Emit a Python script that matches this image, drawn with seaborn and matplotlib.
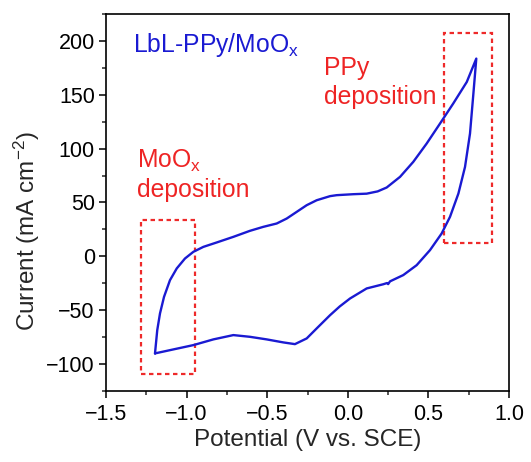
import matplotlib
matplotlib.use("Agg")
import matplotlib.pyplot as plt
import seaborn as sns
import pandas as pd
from matplotlib.patches import Rectangle
from matplotlib.ticker import MultipleLocator

# ---- data ----
v_anodic = [-1.196, -1.182, -1.165, -1.140, -1.103, -1.061, -1.010, -0.958, -0.896, -0.813,
            -0.710, -0.607, -0.524, -0.441, -0.379, -0.317, -0.255, -0.193, -0.110, -0.069,
            0.034, 0.117, 0.185, 0.241, 0.324, 0.406, 0.489, 0.572, 0.654, 0.738, 0.797]
i_anodic = [-90.1, -68.5, -53.0, -37.6, -22.1, -11.2, -2.0, 4.2, 8.8, 12.9,
            18.1, 23.7, 27.4, 30.5, 35.1, 41.3, 47.5, 52.1, 55.9, 56.8,
            57.7, 58.2, 60.3, 63.9, 73.8, 87.7, 104.7, 123.3, 141.9, 161.9, 183.6]
v_cathodic = [0.779, 0.758, 0.727, 0.686, 0.634, 0.582, 0.510, 0.427, 0.344, 0.262,
              0.250, 0.243, 0.220, 0.117, 0.014, -0.050, -0.110, -0.193, -0.255, -0.328,
              -0.400, -0.503, -0.607, -0.710, -0.834, -0.958, -1.082, -1.196]
i_cathodic = [151.1, 114.0, 83.0, 58.3, 36.7, 21.2, 5.8, -8.2, -17.4, -23.2,
              -25.8, -24.8, -25.9, -29.8, -39.1, -46.5, -54.6, -66.9, -76.2, -81.5,
              -79.9, -77.1, -74.7, -73.1, -77.1, -82.4, -86.4, -90.1]

curve_label = "LbL-PPy/MoO$_\\mathregular{x}$"
box_moox = (-1.28, -109, 0.33, 143)   # x, y, width, height
box_ppy = (0.597, 12, 0.296, 195)
x_ticks = [-1.5, -1.0, -0.5, 0.0, 0.5, 1.0]
y_ticks = [-100, -50, 0, 50, 100, 150, 200]

df = pd.DataFrame({
    "V": v_anodic + v_cathodic,
    "I": i_anodic + i_cathodic,
})

sns.set_theme(style="ticks")
plt.rcParams["font.family"] = ["Liberation Sans", "DejaVu Sans"]
plt.rcParams["mathtext.fontset"] = "custom"
plt.rcParams["mathtext.rm"] = "Liberation Sans"
plt.rcParams["mathtext.it"] = "Liberation Sans:italic"
plt.rcParams["mathtext.bf"] = "Liberation Sans:bold"

fig = plt.figure(figsize=(5.31, 4.62), dpi=100)
ax = fig.add_axes([0.1996, 0.1537, 0.759, 0.816])

sns.lineplot(data=df, x="V", y="I", sort=False, estimator=None, ax=ax,
             color="#1a1ad2", linewidth=1.7)

for (bx, by, bw, bh) in [box_moox, box_ppy]:
    ax.add_patch(Rectangle((bx, by), bw, bh, fill=False, edgecolor="#ee2a2a",
                           linewidth=1.6, linestyle=(0, (2.0, 1.6))))

fs = 17.8
red = "#ee2424"
ax.text(-1.335, 196, curve_label, color="#1a1ad2", fontsize=fs, va="center", ha="left")
ax.text(-0.145, 174.5, "PPy", color=red, fontsize=fs, va="center", ha="left")
ax.text(-0.145, 148, "deposition", color=red, fontsize=fs, va="center", ha="left")
ax.text(-1.31, 89, "MoO$_\\mathregular{x}$", color=red, fontsize=fs, va="center", ha="left")
ax.text(-1.31, 61.5, "deposition", color=red, fontsize=fs, va="center", ha="left")


def fmt(t, nd):
    s = f"{t:.{nd}f}"
    return s.replace("-", "\u2212")


ax.set_xlim(-1.5, 1.0)
ax.set_ylim(-125, 225)
ax.set_xticks(x_ticks)
ax.set_xticklabels([fmt(t, 1) for t in x_ticks])
ax.set_yticks(y_ticks)
ax.set_yticklabels([fmt(t, 0) for t in y_ticks])
ax.xaxis.set_minor_locator(MultipleLocator(0.25))
ax.yaxis.set_minor_locator(MultipleLocator(25))

ax.tick_params(axis="both", which="major", direction="out", length=5, width=1.1,
               labelsize=15.5, colors="black")
ax.tick_params(axis="x", which="major", pad=4.5)
ax.tick_params(axis="y", which="major", pad=3)
ax.tick_params(axis="both", which="minor", direction="out", length=3, width=1.1)
ax.tick_params(top=False, right=False, which="both")
for s in ax.spines.values():
    s.set_linewidth(1.2)
    s.set_color("black")
    s.set_visible(True)

ax.set_xlabel("Potential (V vs. SCE)", fontsize=17.5, labelpad=3)
ax.set_ylabel("Current (mA cm$^{\\mathregular{-2}}$)", fontsize=17.5)
ax.yaxis.set_label_coords(-0.160, 0.424)

fig.savefig("out.png", dpi=100)
